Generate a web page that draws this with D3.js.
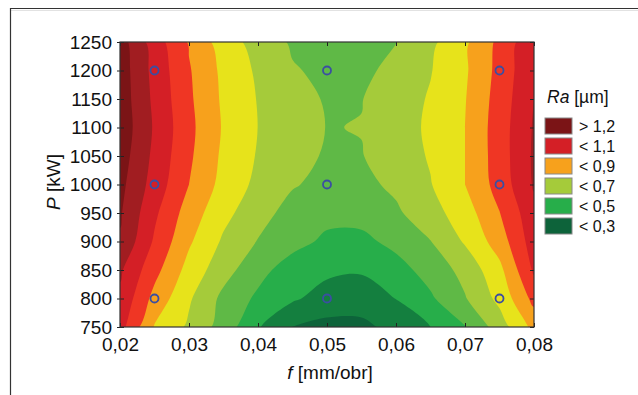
<!DOCTYPE html>
<html>
<head>
<meta charset="utf-8">
<script src="https://cdn.jsdelivr.net/npm/d3@7"></script>
<style>
  body { margin: 0; background: #fff; }
  svg text { font-family: "Liberation Sans", Arial, sans-serif; fill: #111; }
</style>
</head>
<body>
<div id="chart"></div>
<script>
// grid of Ra: columns = f, rows = P (top row first)
const fGrid = [0.02, 0.025, 0.03, 0.035, 0.04, 0.045, 0.05, 0.055, 0.06, 0.065, 0.07, 0.075, 0.08];
const pGrid = [1250, 1200, 1150, 1100, 1050, 1000, 950, 900, 850, 800, 750];
const ra = [
  [1.247, 1.050, 0.890, 0.750, 0.660, 0.587, 0.565, 0.570, 0.598, 0.678, 0.781, 0.925, 1.080], // 1250
  [1.255, 1.068, 0.909, 0.776, 0.684, 0.608, 0.580, 0.580, 0.625, 0.695, 0.786, 0.931, 1.090], // 1200
  [1.258, 1.078, 0.917, 0.783, 0.695, 0.642, 0.590, 0.597, 0.653, 0.709, 0.795, 0.943, 1.100], // 1150
  [1.265, 1.088, 0.926, 0.790, 0.699, 0.653, 0.597, 0.603, 0.663, 0.714, 0.800, 0.952, 1.110], // 1100
  [1.250, 1.076, 0.917, 0.780, 0.692, 0.639, 0.588, 0.596, 0.649, 0.709, 0.800, 0.950, 1.115], // 1050
  [1.229, 1.058, 0.900, 0.766, 0.676, 0.609, 0.570, 0.575, 0.620, 0.695, 0.800, 0.940, 1.110], // 1000
  [1.211, 1.019, 0.854, 0.728, 0.640, 0.561, 0.530, 0.535, 0.584, 0.661, 0.753, 0.897, 1.070], // 950
  [1.190, 0.986, 0.814, 0.685, 0.595, 0.535, 0.480, 0.475, 0.528, 0.597, 0.711, 0.848, 1.050], // 900
  [1.115, 0.932, 0.764, 0.638, 0.534, 0.450, 0.420, 0.410, 0.461, 0.540, 0.632, 0.773, 1.015], // 850
  [1.080, 0.868, 0.713, 0.574, 0.481, 0.414, 0.360, 0.350, 0.402, 0.485, 0.593, 0.727, 0.930], // 800
  [1.040, 0.792, 0.683, 0.556, 0.409, 0.299, 0.270, 0.275, 0.332, 0.400, 0.495, 0.648, 0.830]  // 750
];
const levels = [0.3, 0.4, 0.5, 0.6, 0.7, 0.8, 0.9, 1.0, 1.1, 1.2];
const bandColors = ["#0d633a", "#147f3f", "#27ae4a", "#5fb946", "#a5cb3a", "#e7e31b",
                    "#f7a11c", "#ef3624", "#d41f26", "#a11d21", "#7b1416"];

// measured points
const fPoints = [0.025, 0.05, 0.075];
const pPoints = [1200, 1000, 800];

const fTicks = [0.02, 0.03, 0.04, 0.05, 0.06, 0.07, 0.08];
const pTicks = [750, 800, 850, 900, 950, 1000, 1050, 1100, 1150, 1200, 1250];

const legendLabels = ["> 1,2", "< 1,1", "< 0,9", "< 0,7", "< 0,5", "< 0,3"];
const legendColors = ["#7b1416", "#d41f26", "#f7a11c", "#a5cb3a", "#27ae4a", "#0d633a"];

const W = 638, H = 395;
const margin = {top: 42, right: 104, bottom: 68, left: 120};
const width = W - margin.left - margin.right;
const height = H - margin.top - margin.bottom;

const svg = d3.select("#chart").append("svg")
  .attr("width", W)
  .attr("height", H);

// outer frame (cut off at right and bottom)
svg.append("line").attr("x1", 10).attr("y1", 8.5).attr("x2", W).attr("y2", 8.5)
  .attr("stroke", "#333").attr("stroke-width", 1.2);
svg.append("line").attr("x1", 11).attr("y1", 10.5).attr("x2", W).attr("y2", 10.5)
  .attr("stroke", "#e2e2e2").attr("stroke-width", 1);
svg.append("line").attr("x1", 10.5).attr("y1", 8).attr("x2", 10.5).attr("y2", H)
  .attr("stroke", "#333").attr("stroke-width", 1.2);

const g = svg.append("g")
  .attr("transform", "translate(" + margin.left + "," + margin.top + ")");

let x = d3.scaleLinear().domain([0.02, 0.08]).range([0, width]);
let y = d3.scaleLinear().domain([750, 1250]).range([height, 0]);

const comma = d3.formatLocale({decimal: ",", thousands: "", grouping: [3], currency: ["", ""]});

g.append("clipPath").attr("id", "plotclip")
  .append("rect").attr("width", width).attr("height", height);

// contour bands, rings smoothed with a closed catmull-rom curve
const nx = fGrid.length, ny = pGrid.length;
const df = fGrid[1] - fGrid[0], dp = pGrid[1] - pGrid[0];
const bands = d3.contours().size([nx, ny]).thresholds(levels)(ra.flat());

const ringLine = d3.line()
  .x(d => x(fGrid[0] + (d[0] - 0.5) * df))
  .y(d => y(pGrid[0] + (d[1] - 0.5) * dp))
  .curve(d3.curveCatmullRomClosed.alpha(0.5));
const bandPath = c => c.coordinates
  .map(poly => poly.map(ring => ringLine(ring.slice(0, -1))).join(""))
  .join("");

const plot = g.append("g").attr("clip-path", "url(#plotclip)");
plot.append("rect").attr("width", width).attr("height", height).attr("fill", bandColors[0]);
plot.selectAll("path.band").data(bands)
  .enter()
    .append("path")
      .attr("class", "band")
      .attr("d", bandPath)
      .attr("fill-rule", "evenodd")
      .attr("fill", (d, i) => bandColors[i + 1]);

// axes
const axisStyle = sel => {
  sel.select(".domain").remove();
  sel.selectAll("line").attr("stroke", "#222");
  sel.selectAll("text").style("font-size", "19px").attr("fill", "#111");
};

g.append("g")
  .call(d3.axisLeft(y).tickValues(pTicks).tickSizeInner(-4).tickSizeOuter(0).tickPadding(8)
    .tickFormat(d3.format("d")))
  .call(axisStyle);
g.append("g")
  .call(d3.axisLeft(y).tickValues(pTicks).tickSize(3).tickFormat(""))
  .call(axisStyle);
g.append("g")
  .attr("transform", "translate(" + width + ",0)")
  .call(d3.axisRight(y).tickValues(pTicks).tickSize(-4).tickFormat(""))
  .call(axisStyle);
g.append("g")
  .attr("transform", "translate(0," + height + ")")
  .call(d3.axisBottom(x).tickValues(fTicks).tickSizeInner(-4).tickSizeOuter(0).tickPadding(11)
    .tickFormat(comma.format(".2f")))
  .call(axisStyle);
g.append("g")
  .call(d3.axisTop(x).tickValues(fTicks).tickSize(-4).tickFormat(""))
  .call(axisStyle);

g.append("rect")
  .attr("width", width).attr("height", height)
  .attr("fill", "none").attr("stroke", "#333").attr("stroke-width", 1.2);

// measurement points
const pts = [];
fPoints.forEach(f => pPoints.forEach(p => pts.push([f, p])));
g.selectAll("circle.pt").data(pts)
  .enter()
    .append("circle")
      .attr("class", "pt")
      .attr("cx", d => x(d[0]))
      .attr("cy", d => y(d[1]))
      .attr("r", 4)
      .attr("fill", "none")
      .attr("stroke", "#3b4ea2")
      .attr("stroke-width", 1.8);

// axis titles
const yt = svg.append("text")
  .attr("transform", "translate(60,182) rotate(-90)")
  .attr("text-anchor", "middle")
  .style("font-size", "19px");
yt.append("tspan").style("font-style", "italic").text("P");
yt.append("tspan").text(" [kW]");

const xt = svg.append("text")
  .attr("x", 330).attr("y", 379)
  .attr("text-anchor", "middle")
  .style("font-size", "19px");
xt.append("tspan").style("font-style", "italic").text("f");
xt.append("tspan").text(" [mm/obr]");

// legend
const lg = svg.append("g").attr("transform", "translate(545,0)");
const lt = lg.append("text").attr("x", 2).attr("y", 103).style("font-size", "17.5px");
lt.append("tspan").style("font-style", "italic").text("Ra");
lt.append("tspan").text(" [\u00b5m]");

const items = lg.selectAll("g.item").data(legendLabels)
  .enter()
    .append("g")
      .attr("class", "item")
      .attr("transform", (d, i) => "translate(0," + (118 + i * 20) + ")");
items.append("rect")
  .attr("width", 27).attr("height", 16)
  .attr("fill", (d, i) => legendColors[i])
  .attr("stroke", "#888").attr("stroke-width", 1);
items.append("text")
  .attr("x", 34).attr("y", 13.5)
  .style("font-size", "16px")
  .text(d => d);
</script>
</body>
</html>
